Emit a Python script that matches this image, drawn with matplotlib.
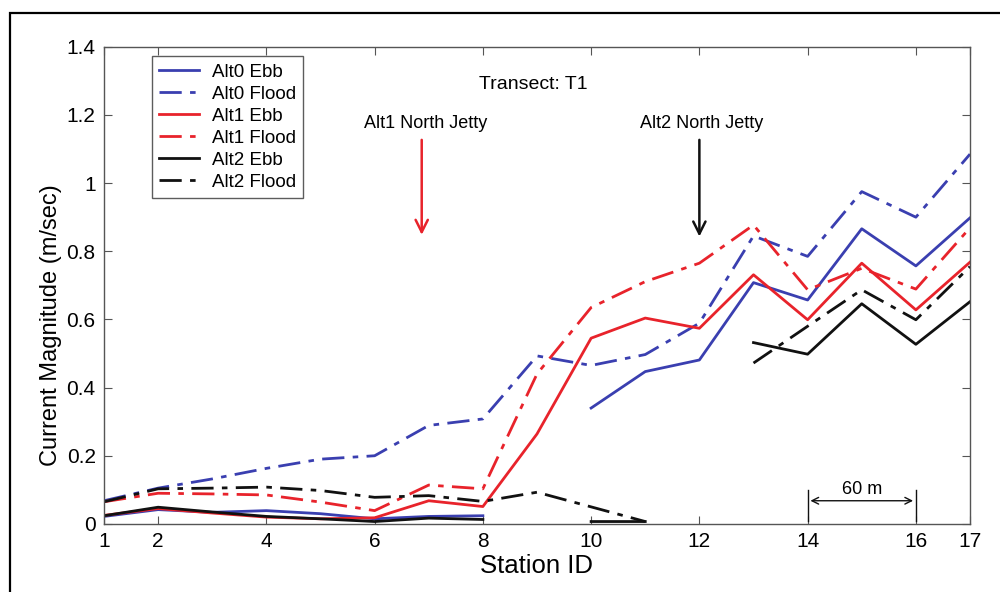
import numpy as np
import matplotlib
matplotlib.use("Agg")
import matplotlib.pyplot as plt
from matplotlib.patches import Rectangle

plt.rcParams['font.family'] = ['Liberation Sans', 'DejaVu Sans']

nan = np.nan
stations = list(range(1, 18))
x_ticks = [1, 2, 4, 6, 8, 10, 12, 14, 16, 17]
y_ticks = [0, 0.2, 0.4, 0.6, 0.8, 1.0, 1.2, 1.4]
y_tick_labels = ["0", "0.2", "0.4", "0.6", "0.8", "1", "1.2", "1.4"]

alt0_ebb = [0.022, 0.042, 0.034, 0.039, 0.030, 0.015, 0.022, 0.024, nan,
            0.340, 0.447, 0.481, 0.708, 0.657, 0.866, 0.757, 0.898]
alt0_flood = [0.068, 0.105, 0.132, 0.163, 0.190, 0.200, 0.289, 0.308, 0.493,
              0.465, 0.497, 0.589, 0.845, 0.785, 0.975, 0.900, 1.085]
alt1_ebb = [0.025, 0.045, 0.032, 0.020, 0.015, 0.018, 0.068, 0.051, 0.264,
            0.545, 0.604, 0.574, 0.731, 0.599, 0.765, 0.628, 0.768]
alt1_flood = [0.065, 0.090, 0.088, 0.085, 0.064, 0.039, 0.114, 0.103, 0.440,
              0.635, 0.711, 0.765, 0.877, 0.687, 0.750, 0.689, 0.869]
alt2_ebb = [0.024, 0.049, 0.035, 0.022, 0.015, 0.007, 0.017, 0.013, nan,
            0.007, 0.007, nan, 0.532, 0.498, 0.646, 0.527, 0.652]
alt2_flood = [0.065, 0.103, 0.105, 0.108, 0.098, 0.078, 0.083, 0.066, 0.093,
              0.050, 0.007, nan, 0.472, 0.580, 0.687, 0.599, 0.755]

blue = "#3a3fb0"
red = "#e8232b"
black = "#111111"
dashdot = (0, (8, 3, 2, 3))

fig = plt.figure(figsize=(10, 5.92), dpi=100)
# outer frame
fig.patches.append(Rectangle((0.010, -0.02), 1.05, 1.0 - 0.022 + 0.02, transform=fig.transFigure,
                             fill=False, edgecolor="black", linewidth=1.6))

ax = fig.add_axes([0.104, 0.115, 0.866, 0.806])

series = [
    ("Alt0 Ebb", alt0_ebb, blue, "-"),
    ("Alt0 Flood", alt0_flood, blue, dashdot),
    ("Alt1 Ebb", alt1_ebb, red, "-"),
    ("Alt1 Flood", alt1_flood, red, dashdot),
    ("Alt2 Ebb", alt2_ebb, black, "-"),
    ("Alt2 Flood", alt2_flood, black, dashdot),
]
for label, vals, col, ls in series:
    ax.plot(stations, vals, color=col, linestyle=ls, linewidth=2.0, label=label)

ax.set_xlim(1, 17)
ax.set_ylim(0, 1.4)
ax.set_xticks(x_ticks)
ax.set_yticks(y_ticks)
ax.set_yticklabels(y_tick_labels)
ax.tick_params(direction="in", top=True, right=True, labelsize=15, length=6,
               color="#555555", pad=6)
for sp in ax.spines.values():
    sp.set_color("#555555")
    sp.set_linewidth(1.0)

ax.set_xlabel("Station ID", fontsize=18.5, labelpad=2)
ax.set_ylabel("Current Magnitude (m/sec)", fontsize=17, labelpad=4)
ax.yaxis.set_label_coords(-0.049, 0.417)

leg = ax.legend(loc="upper left", bbox_to_anchor=(0.055, 0.98), fontsize=13.5,
                frameon=True, fancybox=False, handlelength=2.1, borderpad=0.4,
                labelspacing=0.26, handletextpad=0.7, borderaxespad=0)
leg.get_frame().set_edgecolor("#333333")
leg.get_frame().set_linewidth(1.0)

ax.text(8.93, 1.29, "Transect: T1", fontsize=14, ha="center", va="center")
ax.text(6.95, 1.175, "Alt1 North Jetty", fontsize=13, ha="center", va="center")
ax.text(12.05, 1.175, "Alt2 North Jetty", fontsize=13, ha="center", va="center")
ax.annotate("", xy=(6.87, 0.84), xytext=(6.87, 1.135),
            arrowprops=dict(arrowstyle="->", color=red, lw=1.8, mutation_scale=22))
ax.annotate("", xy=(12.0, 0.835), xytext=(12.0, 1.135),
            arrowprops=dict(arrowstyle="->", color=black, lw=1.8, mutation_scale=22))

# 60 m scale bar
ax.annotate("", xy=(14, 0.068), xytext=(16, 0.068),
            arrowprops=dict(arrowstyle="<->", color=black, lw=1.0, mutation_scale=12))
ax.plot([14, 14], [0.01, 0.1], color=black, lw=1.0)
ax.plot([16, 16], [0.01, 0.1], color=black, lw=1.0)
ax.text(15, 0.1, "60 m", fontsize=13, ha="center", va="center")

fig.savefig("out.png", dpi=100)
